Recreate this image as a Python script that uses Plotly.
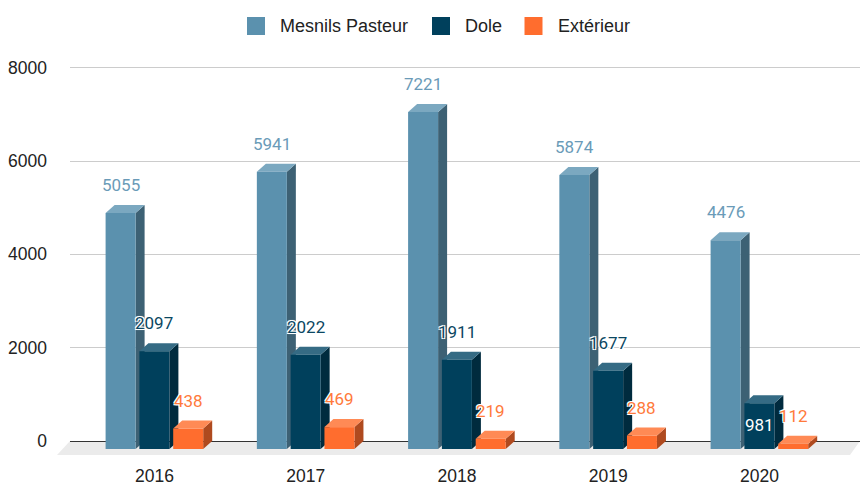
import plotly.graph_objects as go

# ---------------- data ----------------
years = ["2016", "2017", "2018", "2019", "2020"]
mesnils = [5055, 5941, 7221, 5874, 4476]
dole = [2097, 2022, 1911, 1677, 981]
exterieur = [438, 469, 219, 288, 112]
series_names = ["Mesnils Pasteur", "Dole", "Extérieur"]
y_ticks = [0, 2000, 4000, 6000, 8000]

series_values = [mesnils, dole, exterieur]

# ---------------- layout geometry (pixels) ----------------
W, H = 861, 484
PL, PR, PT, PB = 70, 860, 60, 458          # plot area in px
Y0, Y8000 = 441.0, 67.7                    # px of 0 and 8000
K = (Y0 - Y8000) / 8000.0                  # px per data unit
X0, STEP = 154.4, 151.25                   # px of first category centre, px per category

yrange = [-(PB - Y0) / K, (Y0 - PT) / K]
xrange = [(PL - X0) / STEP, (PR - X0) / STEP]

BAR_W = 30 / STEP
OFFS = [-33.8 / STEP, 0.0, 33.8 / STEP]
DX = 9 / STEP          # depth, horizontal (data units)
DY = 8 / K             # depth, vertical (data units)

styles = [
    dict(front="#5B91AE", top="#7BA8C0", side="#3D6174", label="#6A9BB8"),
    dict(front="#00405C", top="#356B84", side="#002B3E", label="#0B4762"),
    dict(front="#FF6D2E", top="#FF8A55", side="#AF4A1F", label="#FF7A3B"),
]

AXIS_FONT = dict(family="Liberation Sans, Arial, sans-serif", size=17.5, color="#222222")
LABEL_FAMILY = "Roboto, Liberation Sans, sans-serif"
HALO = "-1px -1px 0 #fff, 1px -1px 0 #fff, -1px 1px 0 #fff, 1px 1px 0 #fff, 0 0 2px #fff"


def px2paper_x(px):
    return (px - PL) / (PR - PL)


def px2paper_y(py):
    return (PB - py) / (PB - PT)


idx = list(range(len(years)))
fig = go.Figure()
shapes = []
annotations = []

# floor (decorative, paper coordinates)
floor = [(70, 441), (860, 441), (850, 455), (57, 455)]
path = "M " + " L ".join(f"{px2paper_x(x)},{px2paper_y(y)}" for x, y in floor) + " Z"
shapes.append(dict(type="path", path=path, xref="paper", yref="paper",
                   fillcolor="#EBEBEB", line=dict(width=0), layer="below"))

# front faces as bars
for s, (name, vals) in enumerate(zip(series_names, series_values)):
    fig.add_trace(go.Bar(
        x=idx, y=vals, base=[-DY] * len(vals), name=name,
        width=BAR_W, offset=OFFS[s] - BAR_W / 2,
        marker=dict(color=styles[s]["front"], line=dict(width=0)),
        showlegend=False, hoverinfo="skip",
    ))

# side and top faces (derived from values), drawn between grid and traces
for i in idx:
    for s, vals in enumerate(series_values):
        v = vals[i]
        xc = i + OFFS[s]
        xl, xr = xc - BAR_W / 2, xc + BAR_W / 2
        yb, yt = -DY, v - DY
        side = f"M {xr},{yb} L {xr},{yt} L {xr + DX},{yt + DY} L {xr + DX},{yb + DY} Z"
        top = f"M {xl},{yt} L {xr},{yt} L {xr + DX},{yt + DY} L {xl + DX},{yt + DY} Z"
        shapes.append(dict(type="path", path=side, xref="x", yref="y",
                           fillcolor=styles[s]["side"], line=dict(width=0), layer="between"))
        shapes.append(dict(type="path", path=top, xref="x", yref="y",
                           fillcolor=styles[s]["top"], line=dict(width=0), layer="between"))

# value labels
for s, vals in enumerate(series_values):
    for i in idx:
        v = vals[i]
        color = styles[s]["label"]
        shift = 20
        shadow = HALO
        if s == 1 and (v - exterieur[i]) * K < 50:
            shift = -30
            color = "#FFFFFF"
            shadow = "none"
        annotations.append(dict(
            x=i + OFFS[s], y=v, xref="x", yref="y", text=str(v),
            showarrow=False, yshift=shift, xanchor="center", yanchor="middle",
            font=dict(family=LABEL_FAMILY, size=17, color=color, shadow=shadow),
        ))

# custom legend
leg_sq = [247, 432, 524.5]
leg_tx = [277.7, 463, 556]
for s, name in enumerate(series_names):
    shapes.append(dict(type="rect", xref="paper", yref="paper",
                       x0=px2paper_x(leg_sq[s]), x1=px2paper_x(leg_sq[s] + 18),
                       y0=px2paper_y(35), y1=px2paper_y(17),
                       fillcolor=styles[s]["front"], line=dict(width=0)))
    annotations.append(dict(x=px2paper_x(leg_tx[s]), y=px2paper_y(26), xref="paper", yref="paper",
                            text=name, showarrow=False, xanchor="left", yanchor="middle",
                            font=dict(family="Liberation Sans, Arial, sans-serif", size=18, color="#222222")))

fig.update_layout(
    width=W, height=H,
    margin=dict(l=PL, r=W - PR, t=PT, b=H - PB, pad=0, autoexpand=False),
    paper_bgcolor="white", plot_bgcolor="rgba(0,0,0,0)",
    barmode="overlay", showlegend=False,
    shapes=shapes, annotations=annotations,
    xaxis=dict(range=xrange, tickvals=idx, ticktext=years, showgrid=False, zeroline=False,
               showline=False, ticks="", tickfont=AXIS_FONT, ticklabelstandoff=5,
               automargin=False, fixedrange=True),
    yaxis=dict(range=yrange, tickvals=y_ticks, showgrid=True, gridcolor="#CCCCCC", gridwidth=1,
               zeroline=True, zerolinecolor="#333333", zerolinewidth=1.3, showline=False,
               ticks="", tickfont=AXIS_FONT, ticklabelstandoff=22,
               automargin=False, fixedrange=True),
)

fig.write_html("out.html", config={"displayModeBar": False},
               post_script="document.body.style.margin='0px';")
